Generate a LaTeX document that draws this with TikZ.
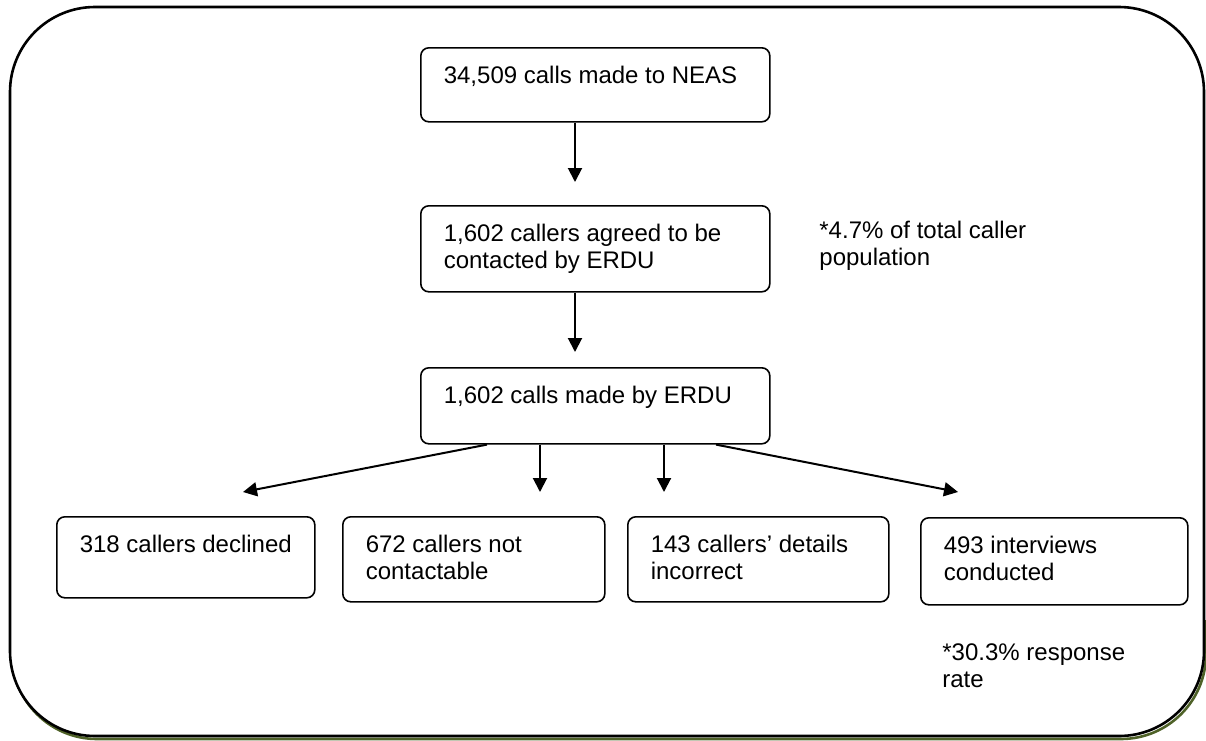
\documentclass[tikz,border=0pt]{standalone}
\usepackage{fontspec}
\setmainfont{Liberation Sans}
\usepackage{tikz}
\usetikzlibrary{arrows.meta}
\usetikzlibrary{positioning}
\usetikzlibrary{calc}
\definecolor{olive shadow}{HTML}{4F6228}
\newcommand{\stagetext}[3]{\parbox[t][#2][t]{#1}{\raggedright\strut #3}}

\begin{document}
\begin{tikzpicture}[
  x=0.5pt, y=-0.5pt,
  every node/.style={font=\fontsize{12pt}{13.5pt}\selectfont},
  stage/.style={draw, rounded corners=4pt, line width=0.8pt, anchor=north west, inner xsep=11.5pt, inner ysep=8.5pt},
  note/.style={anchor=north west, inner sep=0pt, align=left},
  flow/.style={-{Triangle[length=7pt,width=7pt]}, line width=1pt},
  frame/.style={line width=1.3pt, rounded corners=42.5pt},
]
\useasboundingbox (0,0) rectangle (1206,740);
% outer frame with shadow
\begin{scope}
  \clip (0,620) rectangle (1206,740);
  \draw[frame, olive shadow] (12,10) rectangle (1206,739);
\end{scope}
\draw[frame, fill=white] (10,7) rectangle (1204,736);

\node[stage] (neas) at (420,47) {\stagetext{151.5pt}{20pt}{34,509 calls made to NEAS}};
\node[stage] (agreed) at (420,205) {\stagetext{151.5pt}{26pt}{1,602 callers agreed to be\\contacted by ERDU}};
\node[stage] (erdu) at (420,367) {\stagetext{151.5pt}{21pt}{1,602 calls made by ERDU}};

\node[stage] (declined) at (56,516) {\stagetext{106pt}{23.5pt}{318 callers declined}};
\node[stage] (notcont) at (342,516) {\stagetext{108pt}{25.5pt}{672 callers not\\contactable}};
\node[stage] (incorrect) at (627,516) {\stagetext{107.5pt}{25.5pt}{143 callers’ details\\incorrect}};
\node[stage] (interviews) at (920,517) {\stagetext{110.5pt}{26.5pt}{493 interviews\\conducted}};

\node[note] (popnote) at (819,221) {*4.7\% of total caller\\population};
\node[note] (ratenote) at (942,643) {*30.3\% response\\rate};

\coordinate (agreed tip) at (575,182);
\coordinate (erdu tip) at (575,352);
\coordinate (declined tip) at (243,492);
\coordinate (notcont tip) at (540,492);
\coordinate (incorrect tip) at (664,492);
\coordinate (interviews tip) at (958,492);

\draw[flow] ([xshift=77.5pt]neas.south west) -- (agreed tip);
\draw[flow] ([xshift=77.5pt]agreed.south west) -- (erdu tip);
\draw[flow] ([xshift=33.5pt]erdu.south west) -- (declined tip);
\draw[flow] ([xshift=60pt]erdu.south west) -- (notcont tip);
\draw[flow] ([xshift=122pt]erdu.south west) -- (incorrect tip);
\draw[flow] ([xshift=148pt]erdu.south west) -- (interviews tip);
%\draw[flow] (erdu.south) -- (interviews.north);
\end{tikzpicture}
\end{document}
